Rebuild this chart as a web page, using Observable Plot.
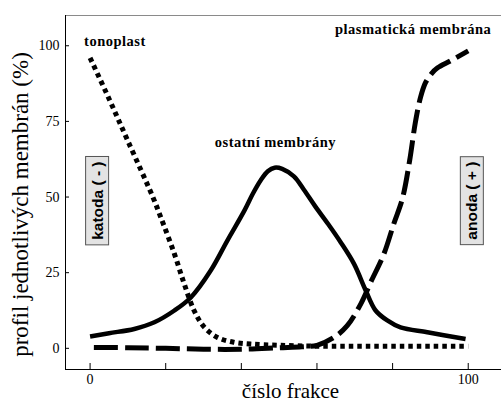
<!DOCTYPE html>
<html>
<head>
<meta charset="utf-8">
<script src="https://cdn.jsdelivr.net/npm/d3@7"></script>
<script src="https://cdn.jsdelivr.net/npm/@observablehq/plot@0.6"></script>
<style>
  html, body { margin: 0; padding: 0; background: #fff; }
  svg { display: block; }
</style>
</head>
<body>
<div id="chart"></div>
<script>
// ---- data ----
const tonoplastX = [0, 5, 10, 16.6, 18.7, 22.3, 24.9, 27.5, 30.2, 33.7, 38, 42.5, 50, 60, 70, 80, 90, 100];
const tonoplastY = [96, 82.5, 68.5, 50, 43.3, 31.2, 21.3, 12.5, 7, 3.6, 2, 1.4, 1, 0.7, 0.7, 0.7, 0.7, 0.7];

const ostatniX = [0, 5, 11.7, 17, 22.3, 26.7, 31.9, 36.3, 40.8, 43, 45, 47, 48.8, 50.8, 53.9, 56.5, 59.5, 63, 66.3, 69.8, 72.9, 75.5, 78.6, 82.1, 89.2, 99.3];
const ostatniY = [3.9, 5, 6.4, 8.6, 12.5, 16.9, 25.7, 35.6, 45.5, 51, 55.3, 58.5, 59.7, 59.3, 56.8, 52.5, 47, 41, 35, 27.9, 19.1, 12.5, 9.2, 6.9, 5.3, 3.1];

const plasmaX = [1, 10, 20, 30, 40, 50, 56, 60, 64.5, 68, 71.6, 74.2, 77.7, 80.3, 82.6, 84.5, 86, 87.4, 88.7, 90.3, 91.9, 95.3, 100];
const plasmaY = [0.3, 0.2, 0, -0.3, -0.3, 0.2, 0.5, 1, 3.6, 7.5, 14.7, 21.8, 31.2, 41.1, 49.5, 62, 74.5, 83, 87.8, 90.8, 92.7, 95, 98.3];

const xTicks = [0, 20, 40, 60, 80, 100];
const xTickLabels = [0, 100];
const yTicks = [0, 25, 50, 75, 100];
const xDomain = [-6.5, 108.8];
const yDomain = [-7, 110];

const xLabel = "číslo frakce";
const yLabel = "profil jednotlivých membrán (%)";
const seriesNames = ["tonoplast", "ostatní membrány", "plasmatická membrána"];
const electrodes = ["katoda ( - )", "anoda ( + )"];

const toRows = (xs, ys) => xs.map((x, i) => ({x, y: ys[i]}));
const tonoplast = toRows(tonoplastX, tonoplastY);
const ostatni = toRows(ostatniX, ostatniY);
const plasma = toRows(plasmaX, plasmaY);

const serif = "'Liberation Serif', 'Times New Roman', serif";
const sans = "'Liberation Sans', Arial, sans-serif";

const plot = Plot.plot({
  width: 501,
  height: 403,
  marginLeft: 65,
  marginRight: 0,
  marginTop: 15,
  marginBottom: 34,
  style: {fontSize: "14px", color: "#000", background: "#fff"},
  x: {domain: xDomain},
  y: {domain: yDomain},
  marks: [
    Plot.ruleY([yDomain[1]], {stroke: "#8a8a8a", strokeWidth: 1.2}),
    Plot.ruleY([yDomain[0]], {stroke: "#000", strokeWidth: 1}),
    Plot.ruleX([xDomain[0]], {stroke: "#000", strokeWidth: 1}),
    Plot.axisX({ticks: xTicks, tickSize: -6, tickPadding: 11, label: null,
      tickFormat: d => xTickLabels.includes(d) ? String(d) : "", fontSize: 14}),
    Plot.axisY({ticks: yTicks, tickSize: -4, tickPadding: 10, label: null, fontSize: 14}),
    Plot.line(tonoplast, {x: "x", y: "y", curve: "catmull-rom", stroke: "#000",
      strokeWidth: 5, strokeDasharray: "4.5,4", strokeLinecap: "butt"}),
    Plot.line(ostatni, {x: "x", y: "y", curve: "catmull-rom", stroke: "#000",
      strokeWidth: 4.5, strokeLinecap: "butt"}),
    Plot.line(plasma, {x: "x", y: "y", curve: "catmull-rom", stroke: "#000",
      strokeWidth: 5, strokeDasharray: "24,7", strokeLinecap: "butt"}),
    // series labels
    Plot.text([seriesNames[0]], {x: tonoplastX[0], y: 101.5, text: d => d, textAnchor: "start",
      dx: -6, fontWeight: "bold", fontSize: 14.5}),
    Plot.text([seriesNames[1]], {x: 49, y: 68, text: d => d, textAnchor: "middle",
      fontWeight: "bold", fontSize: 14.5}),
    Plot.text([seriesNames[2]], {x: plasmaX[plasmaX.length - 1], y: 105.5, text: d => d, textAnchor: "end",
      dx: 23, fontWeight: "bold", fontSize: 14.5}),
    // electrodes
    Plot.text([electrodes[0]], {x: 2, y: 48.8, text: d => d, rotate: -90,
      fontWeight: "bold", fontSize: 15.5}),
    Plot.text([electrodes[1]], {x: 101.1, y: 48.8, text: d => d, rotate: -90,
      fontWeight: "bold", fontSize: 15.5}),
    // axis titles
    Plot.text([yLabel], {frameAnchor: "left", textAnchor: "middle", dx: -45, dy: 12, rotate: -90, text: d => d,
      fontSize: 23}),
    Plot.text([xLabel], {frameAnchor: "bottom", textAnchor: "middle", dy: 22, dx: 7, lineAnchor: "middle", text: d => d,
      fontSize: 21})
  ]
});

document.getElementById("chart").appendChild(plot);

// fonts (inline, so nothing overrides them) and grey boxes behind the electrode labels
plot.querySelectorAll("text").forEach(t => {
  const isElectrode = electrodes.includes(t.textContent);
  t.style.setProperty("font-family", isElectrode ? sans : serif, "important");
  if (seriesNames.includes(t.textContent)) t.style.setProperty("letter-spacing", "0.5px");
  if (!isElectrode) return;
  const b = t.getBBox();
  const r = document.createElementNS("http://www.w3.org/2000/svg", "rect");
  const padX = 5, padY = 4;
  r.setAttribute("x", b.x - padX);
  r.setAttribute("y", b.y - padY + 1);
  r.setAttribute("width", b.width + 2 * padX);
  r.setAttribute("height", b.height + 2 * padY - 2);
  r.setAttribute("fill", "#e3e3e3");
  r.setAttribute("stroke", "#555");
  r.setAttribute("stroke-width", "1");
  if (t.getAttribute("transform")) r.setAttribute("transform", t.getAttribute("transform"));
  t.parentNode.insertBefore(r, t);
});
</script>
</body>
</html>
